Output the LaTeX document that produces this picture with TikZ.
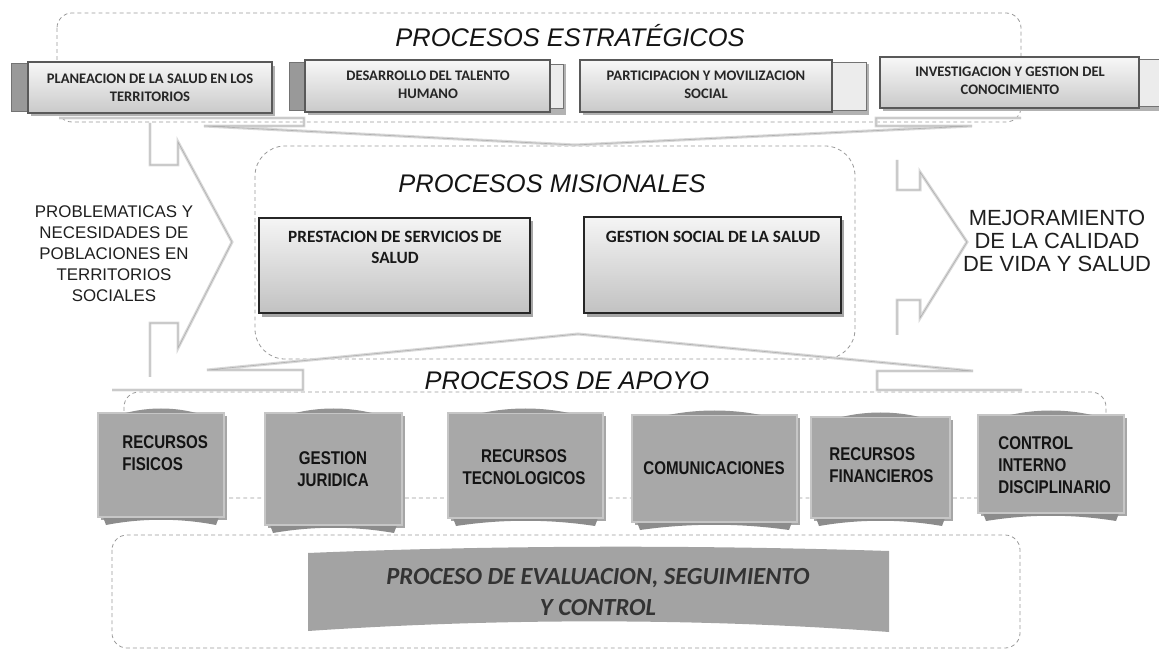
\documentclass[tikz,border=0pt]{standalone}
\usepackage{fontspec}
\setmainfont{Liberation Sans}
\newfontfamily\calfont{Carlito}
\newfontfamily\narrowfont[FakeStretch=0.82]{Liberation Sans}
\tikzset{
 dbox/.style={draw=gray!80, dash pattern=on 2.2pt off 1.8pt, line width=0.45pt, rounded corners=0.3cm},
 outl/.style={draw=gray!30, line width=1.7pt, line join=miter},
 outlin/.style={draw=gray!62, line width=0.35pt, line join=miter},
 ttl/.style={font=\fontsize{14.5}{17}\selectfont\itshape, text=black!92, inner sep=0},
 stxt/.style={font=\calfont\bfseries\fontsize{8.3}{10.2}\selectfont, align=center, inner sep=0, text=black!85},
 mtxt/.style={font=\calfont\bfseries\fontsize{9.8}{12}\selectfont, align=center, inner sep=0, text=black!90},
 sidetxt/.style={align=center, inner sep=0, text=black!88},
 btxt/.style={font=\narrowfont\bfseries\fontsize{10.5}{12.5}\selectfont, inner sep=0, text=black!92},
 etxt/.style={font=\calfont\bfseries\itshape\fontsize{14}{17.6}\selectfont, align=center, inner sep=0, text=black!80},
 sbox/.style={top color=gray!6, bottom color=gray!42, draw=black!65, line width=0.7pt},
 tabdark/.style={fill=gray!80, draw=black!55, line width=0.5pt},
 tablight/.style={fill=gray!15, draw=black!55, line width=0.5pt},
 sshadow/.style={fill=black!30},
 mbox/.style={top color=gray!8, bottom color=gray!48, draw=black!85, line width=1pt},
 bbox/.style={fill=gray!68, draw=gray!45, line width=0.6pt},
 bshadow/.style={fill=black!35},
 bcap/.style={fill=gray!85},
 bwing/.style={fill=black!45},
}
\begin{document}
\begin{tikzpicture}[x=0.02cm,y=-0.02cm]
\useasboundingbox (0,0) rectangle (1159,651);
\fill[white] (0,0) rectangle (1159,651);

% dashed containers
\draw[dbox] (57,13) rectangle (1021,122);
\draw[dbox, rounded corners=0.6cm] (255,146) rectangle (855,359);
\draw[dbox] (124,392) rectangle (1106,498);
\draw[dbox] (112,535) rectangle (1020,648);

% arrow outlines
\foreach \s in {outl,outlin}{
 \draw[\s] (150,123)--(150,165)--(178,165)--(178,142)--(232,242)--(178,348)--(178,323)--(150,323)--(150,377);
 \draw[\s] (897,160)--(897,190)--(920,190)--(920,172)--(967,242)--(920,318)--(920,300)--(897,300)--(897,335);
 \draw[\s] (59,118)--(304,118)--(304,126)--(204,126)--(575,145)--(972,126)--(876,126)--(876,118)--(1021,118);
 \draw[\s] (112,390)--(303,390)--(303,370)--(207,370)--(578,334)--(973,371)--(877,371)--(877,390)--(1022,390);
}

% titles
\node[ttl] (tEst) at (570,36) {PROCESOS ESTRATÉGICOS};
\node[ttl] (tMis) at (552,184) {PROCESOS MISIONALES};
\node[ttl] (tApo) at (567,381) {PROCESOS DE APOYO};

% strategic boxes
\fill[sshadow] (31,66) rectangle (275,116);
\draw[tabdark] (11,63) rectangle (28,111);
\shade[sbox] (28,62) rectangle (272,113);
\node[stxt] (s1) at (150,88) {PLANEACION DE LA SALUD EN LOS\\TERRITORIOS};

\fill[sshadow] (308,64) rectangle (566,115);
\draw[tabdark] (289,62) rectangle (305,110);
\draw[tablight] (550,64) rectangle (563,108);
\shade[sbox] (305,60) rectangle (550,112);
\node[stxt] (s2) at (428,85) {DESARROLLO DEL TALENTO\\HUMANO};

\fill[sshadow] (583,64) rectangle (869,115);
\draw[tablight] (832,62) rectangle (866,110);
\shade[sbox] (580,60) rectangle (832,112);
\node[stxt] (s3) at (706,85) {PARTICIPACION Y MOVILIZACION\\SOCIAL};

\fill[sshadow] (883,61) rectangle (1159,111);
\draw[tablight] (1139,59) rectangle (1162,106);
\shade[sbox] (880,57) rectangle (1139,108);
\node[stxt] (s4) at (1010,81) {INVESTIGACION Y GESTION DEL\\CONOCIMIENTO};

% misional boxes
\fill[black!35] (262,221) rectangle (533,317);
\shade[mbox] (259,218) rectangle (530,313);
\node[mtxt] (m1) at (395,247) {PRESTACION DE SERVICIOS DE\\SALUD};
\fill[black!35] (587,220) rectangle (844,317);
\shade[mbox] (584,217) rectangle (841,313);
\node[mtxt] (m2) at (713,237) {GESTION SOCIAL DE LA SALUD};

% side texts
\node[sidetxt, font=\fontsize{9.6}{11.9}\selectfont] (left) at (114,254)
 {PROBLEMATICAS Y\\NECESIDADES DE\\POBLACIONES EN\\TERRITORIOS\\SOCIALES};
\node[sidetxt, font=\fontsize{12.5}{13}\selectfont] (right) at (1057,241)
 {MEJORAMIENTO\\DE LA CALIDAD\\DE VIDA Y SALUD};

% support boxes
\foreach \xa/\ya/\xb/\yb in {98/413/224/517, 265/413/402/525, 448/413/603/518, 632/415/797/522, 811/417/950/518, 978/415/1124/513}{
 \fill[bshadow] (\xa+3,\ya+3) rectangle (\xb+3,\yb+3);
 \fill[bwing] (\xa+5,\yb) -- (\xa+8,\yb+8) .. controls ({\xa+0.35*(\xb-\xa)},\yb+1) and ({\xa+0.65*(\xb-\xa)},\yb+1) .. (\xb-8,\yb+8) -- (\xb-5,\yb) -- cycle;
 \draw[bbox] (\xa,\ya) rectangle (\xb,\yb);
 \fill[bcap] ({\xa+0.22*(\xb-\xa)},\ya) .. controls ({\xa+0.4*(\xb-\xa)},\ya-6) and ({\xa+0.6*(\xb-\xa)},\ya-6) .. ({\xa+0.78*(\xb-\xa)},\ya) -- cycle;
}
\node[btxt, anchor=west, align=left] (b1) at (122,453) {RECURSOS\\FISICOS};
\node[btxt, align=center] (b2) at (333,469) {GESTION\\JURIDICA};
\node[btxt, align=center] (b3) at (524,467) {RECURSOS\\TECNOLOGICOS};
\node[btxt, align=center] (b4) at (714,468) {COMUNICACIONES};
\node[btxt, anchor=west, align=left] (b5) at (829,465) {RECURSOS\\FINANCIEROS};
\node[btxt, anchor=west, align=left] (b6) at (998,465) {CONTROL\\INTERNO\\DISCIPLINARIO};

% evaluation banner
\fill[gray!72] (308,553) .. controls (500,545) and (700,545) .. (889,551)
 -- (889,632) .. controls (700,618) and (500,618) .. (308,631) -- cycle;
\node[etxt] (ev) at (598,592) {PROCESO DE EVALUACION, SEGUIMIENTO\\Y CONTROL};
\end{tikzpicture}
\end{document}
